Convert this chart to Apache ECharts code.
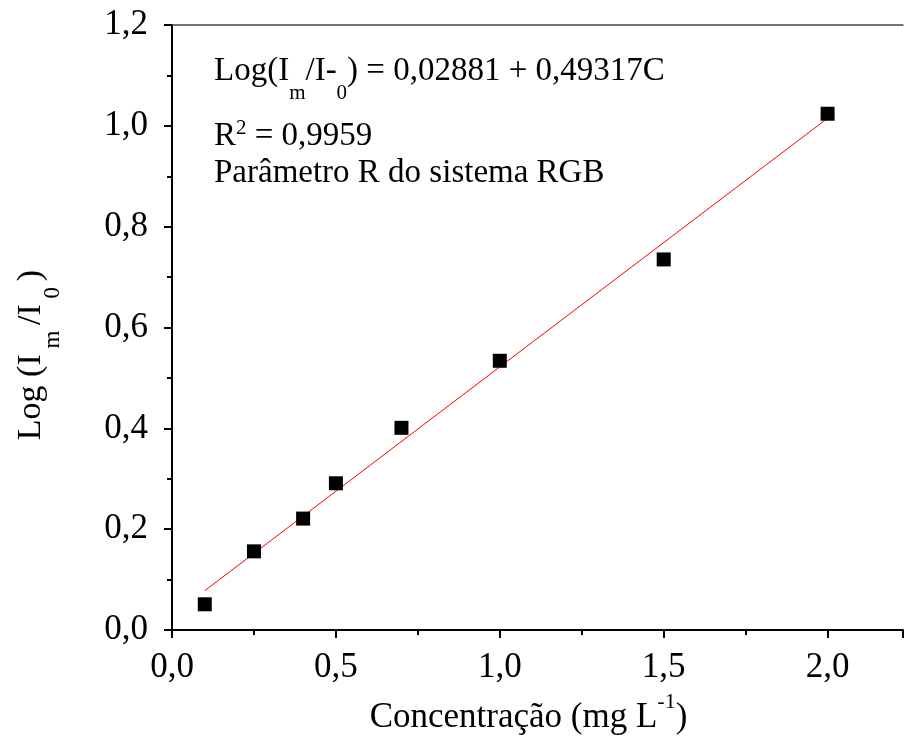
<!DOCTYPE html>
<html><head><meta charset="utf-8">
<script src="https://cdn.jsdelivr.net/npm/echarts@6/dist/echarts.min.js"></script>
<style>html,body{margin:0;padding:0;background:#fff}#c{width:906px;height:740px}</style>
</head><body><div id="c"></div>
<script>
const concentration = [0.1, 0.25, 0.4, 0.5, 0.7, 1.0, 1.5, 2.0];
const logRatio = [0.051, 0.156, 0.221, 0.291, 0.401, 0.534, 0.735, 1.024];
const fitX = [0.1, 2.0];
const fitY = [0.078, 1.015];
const annotations = ['Log(I{sub|m}/I-{sub|0}) = 0,02881 + 0,49317C', 'R{sup|2} = 0,9959', 'Parâmetro R do sistema RGB'];
const xTitle = 'Concentração (mg L{sup|-1})';
const yTitle = 'Log (I{sub| m }/I{sub| 0 })';

const FONT = '"Liberation Serif", "Times New Roman", serif';
const fmt = v => v.toFixed(1).replace('.', ',');
const XMAX = 2.23;
const chart = echarts.init(document.getElementById('c'), null, {renderer: 'canvas'});
const sub = {fontFamily: FONT, fontSize: 23, color: '#000', verticalAlign: 'bottom', padding: [0, 0, -16, 0]};
const sup = {fontFamily: FONT, fontSize: 22, color: '#000', verticalAlign: 'top', padding: [-9, 0, 0, 0]};
chart.setOption({
  animation: false,
  backgroundColor: '#fff',
  grid: {left: 172, top: 25, width: 329 * XMAX, height: 607, show: false},
  xAxis: [{
    type: 'value', min: 0, max: XMAX, interval: 0.5,
    axisLine: {show: true, onZero: false, lineStyle: {color: '#000', width: 2}},
    axisTick: {show: true, length: 8, lineStyle: {color: '#000', width: 2}},
    minorTick: {show: true, splitNumber: 2, length: 5, lineStyle: {color: '#000', width: 2}},
    splitLine: {show: false},
    axisLabel: {formatter: v => (v <= 2.0 ? fmt(v) : ''), fontFamily: FONT, fontSize: 35, color: '#000', margin: 20},
    name: xTitle, nameLocation: 'middle', nameGap: 70,
    nameTextStyle: {fontFamily: FONT, fontSize: 35, color: '#000', padding: [0, 18, 0, 0], rich: {sup: sup}}
  }, {
    type: 'value', position: 'top', min: 0, max: XMAX,
    axisLine: {show: true, onZero: false, lineStyle: {color: '#444', width: 1.5}},
    axisTick: {show: false}, axisLabel: {show: false}, splitLine: {show: false}
  }],
  yAxis: {
    type: 'value', min: 0, max: 1.2, interval: 0.2,
    axisLine: {show: true, onZero: false, lineStyle: {color: '#000', width: 2}},
    axisTick: {show: true, length: 8, lineStyle: {color: '#000', width: 2}},
    minorTick: {show: true, splitNumber: 2, length: 5, lineStyle: {color: '#000', width: 2}},
    splitLine: {show: false},
    axisLabel: {formatter: fmt, fontFamily: FONT, fontSize: 35, color: '#000', margin: 24},
    name: yTitle, nameLocation: 'middle', nameGap: 124, nameRotate: 90,
    nameTextStyle: {fontFamily: FONT, fontSize: 34, color: '#000', padding: [0, 0, 0, -55], rich: {sub: sub}}
  },
  series: [
    {type: 'line', data: fitX.map((x, i) => [x, fitY[i]]), symbol: 'none', lineStyle: {color: '#ff0000', width: 1}, z: 2},
    {type: 'scatter', data: concentration.map((x, i) => [x, logRatio[i]]), symbol: 'rect', symbolSize: 14, itemStyle: {color: '#000', opacity: 1}, z: 3}
  ],
  graphic: annotations.map((t, i) => ({
    type: 'text', left: 214, top: [55, 118, 157][i],
    style: {text: t, fontFamily: FONT, fontSize: 33, fill: '#000', rich: {
      sub: {fontFamily: FONT, fontSize: 21, fill: '#000', verticalAlign: 'bottom', padding: [0, 0, -16, 0]},
      sup: {fontFamily: FONT, fontSize: 21, fill: '#000', verticalAlign: 'top', padding: [-2, 0, 0, 0]}
    }}
  }))
});
</script></body></html>
